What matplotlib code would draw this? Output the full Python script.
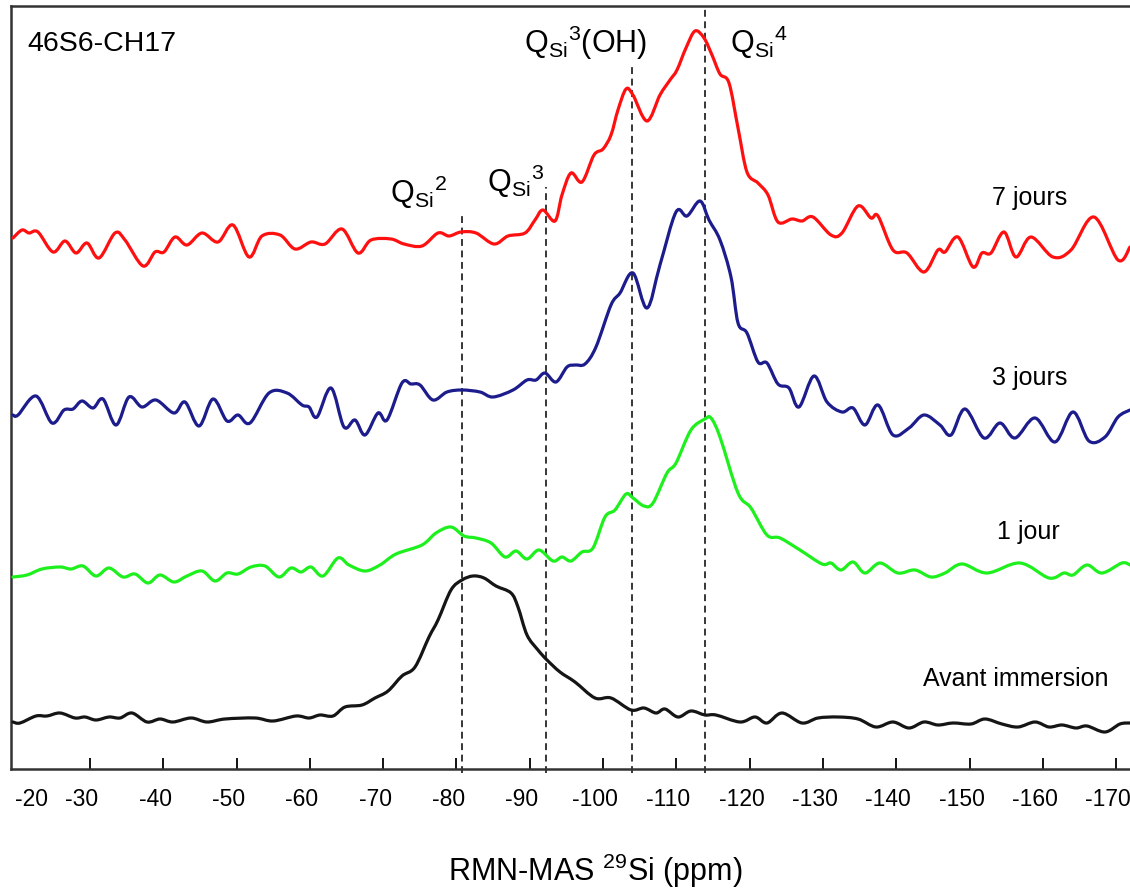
import matplotlib.pyplot as plt
import numpy as np
from matplotlib.patches import PathPatch
from matplotlib.path import Path
from matplotlib.transforms import ScaledTranslation

plt.rcParams['font.family'] = ['Liberation Sans', 'DejaVu Sans']
plt.rcParams['mathtext.fontset'] = 'custom'
plt.rcParams['mathtext.rm'] = 'Liberation Sans'
plt.rcParams['mathtext.it'] = 'Liberation Sans:italic'

# 29Si MAS-NMR spectra, (shift in ppm, intensity in a.u.) per immersion time
SPEC_7J = [
    (-19.49, 2), (-20.72, 10), (-21.68, 7), (-22.90, 8), (-24.95, -12), (-26.59, -1),
    (-28.09, -13), (-29.59, -3), (-31.23, -18), (-33.41, 7), (-34.77, 0), (-37.23, -26),
    (-38.87, -12), (-40.09, -12), (-41.60, 3), (-43.23, -5), (-45.28, 7), (-47.46, -2),
    (-49.51, 15), (-51.69, -17), (-53.46, 4), (-55.92, 5), (-57.97, -9), (-60.15, -2),
    (-62.06, -4), (-64.38, 11), (-66.56, -13), (-68.34, 0), (-71.06, 1), (-72.84, -4),
    (-75.29, -6), (-77.48, 7), (-78.98, 4), (-80.61, 8), (-82.66, 7), (-85.12, -4),
    (-87.03, 4), (-89.35, 7), (-90.71, 20), (-91.80, 30), (-93.44, 19), (-94.39, 45),
    (-95.62, 67), (-97.12, 58), (-98.76, 85), (-99.99, 91), (-101.08, 105), (-102.03, 130),
    (-103.13, 151), (-104.08, 145), (-105.99, 119), (-107.76, 145), (-109.13, 160),
    (-110.08, 170), (-111.31, 192), (-112.54, 209), (-113.77, 202), (-114.86, 185),
    (-115.95, 166), (-117.18, 157), (-118.41, 112), (-119.63, 68), (-121.13, 57),
    (-122.50, 45), (-123.86, 18), (-125.77, 21), (-127.14, 19), (-128.64, 23),
    (-131.09, 5), (-132.59, 7), (-134.78, 34), (-136.55, 22), (-137.51, 24),
    (-139.55, -10), (-141.46, -13), (-143.78, -32), (-145.69, -10), (-146.65, -12),
    (-148.42, 3), (-150.47, -27), (-151.69, -13), (-152.92, -13), (-154.70, 8),
    (-156.33, -17), (-158.38, 3), (-161.38, -17), (-163.84, -10), (-166.97, 23),
    (-170.25, -20), (-171.89, -7),
]

SPEC_3J = [
    (-19.49, -5), (-20.18, -5), (-22.63, 14), (-24.81, -13), (-26.45, 0), (-27.68, 1),
    (-28.91, 9), (-30.41, 2), (-31.77, 11), (-33.55, -15), (-35.32, 13), (-37.09, 3),
    (-39.00, 10), (-41.46, -3), (-42.96, 8), (-44.87, -16), (-46.78, 11), (-48.69, -11),
    (-50.19, -5), (-51.83, -13), (-54.42, 17), (-56.88, 17), (-58.92, 5), (-59.88, 3),
    (-60.97, -7), (-62.88, 22), (-64.65, -17), (-66.15, -10), (-67.52, -25), (-69.29, -3),
    (-70.52, -10), (-72.56, 27), (-73.79, 26), (-75.02, 25), (-76.79, 10), (-78.70, 18),
    (-80.75, 20), (-83.21, 18), (-84.98, 13), (-87.71, 20), (-89.62, 30), (-90.85, 30),
    (-92.07, 37), (-93.57, 28), (-95.08, 43), (-96.17, 45), (-97.53, 46), (-99.03, 63),
    (-101.08, 105), (-102.31, 117), (-104.08, 137), (-105.99, 102), (-107.76, 145),
    (-109.95, 198), (-111.45, 194), (-113.22, 209), (-114.45, 190), (-115.95, 170),
    (-117.45, 133), (-118.41, 87), (-119.63, 77), (-121.13, 48), (-122.36, 47),
    (-123.86, 26), (-125.36, 22), (-126.73, 3), (-128.77, 34), (-130.55, 8),
    (-132.59, -2), (-134.10, 2), (-135.73, -15), (-137.51, 5), (-139.55, -25),
    (-141.74, -18), (-143.78, -5), (-145.96, -15), (-147.47, -25), (-149.38, 1),
    (-151.97, -28), (-154.15, -13), (-156.20, -28), (-158.93, -8), (-161.65, -32),
    (-164.11, -2), (-166.29, -31), (-168.48, -27), (-170.25, -7), (-171.89, 0),
]

SPEC_1J = [
    (-19.49, -5), (-21.40, -3), (-23.45, 3), (-25.91, 5), (-27.41, 3), (-29.04, 6),
    (-30.82, -4), (-32.59, 4), (-34.50, -5), (-36.14, -2), (-37.91, -11), (-39.55, -3),
    (-41.46, -10), (-43.23, -4), (-45.28, 1), (-47.05, -9), (-48.69, -1), (-50.19, -2),
    (-51.96, 5), (-53.87, 6), (-55.78, -5), (-57.42, 4), (-58.79, 0), (-60.15, 5),
    (-61.79, -4), (-63.83, 14), (-65.33, 7), (-67.52, 1), (-69.56, 7), (-71.75, 18),
    (-75.29, 27), (-77.20, 39), (-79.25, 45), (-81.02, 36), (-82.66, 34), (-84.71, 29),
    (-86.62, 15), (-88.12, 21), (-89.62, 13), (-91.26, 22), (-93.17, 11), (-94.39, 15),
    (-95.62, 11), (-97.12, 20), (-98.62, 24), (-100.26, 55), (-101.62, 62), (-103.13, 78),
    (-104.08, 74), (-105.58, 66), (-106.81, 69), (-108.72, 99), (-109.95, 109),
    (-111.99, 142), (-113.90, 153), (-114.72, 154), (-115.95, 135), (-118.41, 79),
    (-120.18, 64), (-122.36, 37), (-124.14, 34), (-126.86, 22), (-129.87, 8),
    (-131.09, 9), (-132.46, 2), (-134.10, 10), (-135.73, -1), (-137.78, 9),
    (-140.23, -1), (-142.55, 2), (-144.74, -5), (-146.65, -1), (-148.97, 8),
    (-152.38, -1), (-156.88, 9), (-160.84, -6), (-162.88, -1), (-164.11, -3),
    (-166.02, 7), (-168.07, -1), (-170.79, 9), (-171.89, 7),
]

SPEC_AVANT = [
    (-19.49, -2), (-20.45, -3), (-22.63, 4), (-24.13, 4), (-25.91, 7), (-27.95, 2),
    (-29.32, 3), (-30.82, 0), (-32.59, 3), (-34.09, 2), (-35.73, 7), (-37.78, -2),
    (-39.55, 1), (-41.32, -2), (-43.78, 2), (-45.96, -2), (-48.42, 1), (-52.51, 2),
    (-54.97, -1), (-58.10, 4), (-59.88, 2), (-61.38, 5), (-63.15, 4), (-64.79, 13),
    (-67.11, 15), (-68.88, 22), (-70.66, 29), (-72.56, 44), (-74.34, 53), (-76.25, 83),
    (-77.48, 100), (-79.25, 130), (-80.75, 140), (-82.25, 144), (-83.75, 142),
    (-85.39, 134), (-87.44, 127), (-88.39, 113), (-89.62, 85), (-91.12, 70),
    (-92.35, 60), (-94.12, 48), (-96.17, 38), (-98.90, 22), (-101.08, 22),
    (-103.81, 10), (-105.58, 12), (-107.22, 7), (-108.45, 11), (-110.22, 3),
    (-111.99, 9), (-113.90, 5), (-115.40, 5), (-118.68, -2), (-120.73, 3),
    (-122.36, -3), (-124.41, 7), (-127.14, -3), (-129.32, 2), (-132.05, 3),
    (-134.78, 1), (-137.23, -7), (-139.55, -2), (-141.74, -8), (-143.78, -2),
    (-145.69, -5), (-147.74, -3), (-150.19, -4), (-152.10, 1), (-154.42, -4),
    (-156.61, -7), (-158.93, -2), (-160.84, -7), (-162.61, -5), (-164.52, -8),
    (-166.02, -6), (-168.48, -12), (-170.52, -4), (-171.89, -3),
]

LABELS = ['7 jours', '3 jours', '1 jour', 'Avant immersion']
OFFSETS = [529, 359, 197, 49]
COLORS = ['#ff1010', '#1c1c8c', '#1ef01e', '#151515']

# Q-site assignments (ppm) and how high each guide line reaches
Q_POS = [-80.75, -92.2, -103.95, -113.9]
Q_TOP = [557, 582, 704, 763]

TICKS = list(range(-30, -171, -10))


def smooth_path(x, y):
    # cubic Bezier (Catmull-Rom) path passing through every measured point
    pts = np.column_stack([x, y]).astype(float)
    ext = np.vstack([pts[0], pts, pts[-1]])
    verts = [pts[0]]
    codes = [Path.MOVETO]
    for i in range(len(pts) - 1):
        p0, p1, p2, p3 = ext[i], ext[i + 1], ext[i + 2], ext[i + 3]
        verts += [p1 + (p2 - p0) / 6, p2 - (p3 - p1) / 6, p2]
        codes += [Path.CURVE4] * 3
    return Path(verts, codes)


fig = plt.figure(figsize=(11.3, 8.91), dpi=100)
ax = fig.add_axes([11 / 1130, 122 / 891, 1 - 11 / 1130, 763 / 891])

for spec, off, col in zip([SPEC_7J, SPEC_3J, SPEC_1J, SPEC_AVANT], OFFSETS, COLORS):
    x = [p[0] for p in spec]
    y = [p[1] + off for p in spec]
    ax.add_patch(PathPatch(smooth_path(x, y), fill=False, edgecolor=col, lw=2.3,
                           joinstyle='round', capstyle='round', zorder=3))

for q, top in zip(Q_POS, Q_TOP):
    ax.vlines(q, -4, top, colors='black', lw=1.1, linestyles=(0, (4.5, 3)),
              zorder=2, clip_on=False)

ax.set_xlim(-19.22, -171.89)
ax.set_ylim(0, 763)
ax.set_xticks(TICKS)
ax.set_xticklabels([str(t) for t in TICKS])
ax.set_yticks([])
ax.tick_params(axis='x', direction='in', length=8, width=1.3, labelsize=16.5, pad=14)
shift = ScaledTranslation(-8 / 100, 0, fig.dpi_scale_trans)
for lab in ax.get_xticklabels():
    lab.set_transform(lab.get_transform() + shift)
ax.text(-21.95, -19.4 / 763, '-20', transform=ax.get_xaxis_transform(), ha='center',
        va='top', fontsize=16.5)

for side in ['left', 'bottom', 'top']:
    ax.spines[side].set_linewidth(1.8)
    ax.spines[side].set_color('#333333')
ax.spines['right'].set_visible(False)

ax.text(-21.4, 725, '46S6-CH17', fontsize=20.5, ha='left', va='center')

qfs = 22
ax.text(-70.93, 566, r'$\mathregular{Q_{Si}{}^{2}}$', fontsize=qfs, ha='left', va='baseline')
ax.text(-84.16, 577, r'$\mathregular{Q_{Si}{}^{3}}$', fontsize=qfs, ha='left', va='baseline')
ax.text(-89.21, 716, r'$\mathregular{Q_{Si}{}^{3}}$(OH)', fontsize=qfs, ha='left', va='baseline')
ax.text(-117.31, 716, r'$\mathregular{Q_{Si}{}^{4}}$', fontsize=qfs, ha='left', va='baseline')

ax.text(-153.06, 564, LABELS[0], fontsize=18, ha='left', va='baseline')
ax.text(-153.06, 384, LABELS[1], fontsize=18, ha='left', va='baseline')
ax.text(-153.74, 230, LABELS[2], fontsize=18, ha='left', va='baseline')
ax.text(-143.65, 83, LABELS[3], fontsize=18, ha='left', va='baseline')

fig.text(595 / 1130, 1 - 871 / 891, r'RMN-MAS $\mathregular{^{29}}$Si (ppm)',
         fontsize=22, ha='center', va='center')

fig.savefig('out.png', dpi=100)
